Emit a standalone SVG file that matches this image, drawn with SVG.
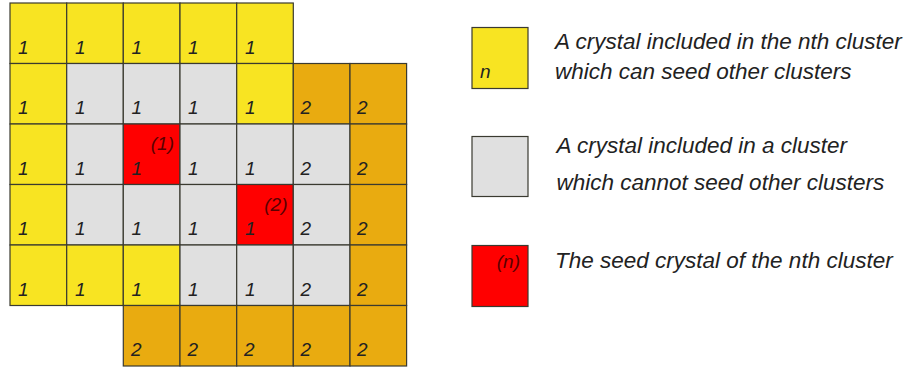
<svg xmlns="http://www.w3.org/2000/svg" width="905" height="374" viewBox="0 0 905 374">
<style>
.c{stroke:#3a3a30;stroke-width:1.2}
.y{fill:#F8E422}
.g{fill:#E0E0E0}
.o{fill:#E9AB10}
.r{fill:#FF0000}
text{font-family:"Liberation Sans",Arial,sans-serif;font-style:italic;fill:#222}
.d{font-size:19px}
.s{font-size:19px;fill:#5a0000;text-anchor:end}
.l{font-size:22.5px}
</style>
<rect x="0" y="0" width="905" height="374" fill="#fff"/>
<g id="grid">
<g id="c00"><rect class="c y" x="10" y="3" width="56.7" height="60.5"/><text class="d" x="18" y="53.5">1</text></g>
<g id="c01"><rect class="c y" x="66.7" y="3" width="56.6" height="60.5"/><text class="d" x="75" y="53.5">1</text></g>
<g id="c02"><rect class="c y" x="123.3" y="3" width="56.7" height="60.5"/><text class="d" x="131.5" y="53.5">1</text></g>
<g id="c03"><rect class="c y" x="180" y="3" width="56.7" height="60.5"/><text class="d" x="188" y="53.5">1</text></g>
<g id="c04"><rect class="c y" x="236.7" y="3" width="56.6" height="60.5"/><text class="d" x="245" y="53.5">1</text></g>
<g id="c10"><rect class="c y" x="10" y="63.5" width="56.7" height="60.5"/><text class="d" x="18" y="114">1</text></g>
<g id="c11"><rect class="c g" x="66.7" y="63.5" width="56.6" height="60.5"/><text class="d" x="75" y="114">1</text></g>
<g id="c12"><rect class="c g" x="123.3" y="63.5" width="56.7" height="60.5"/><text class="d" x="131.5" y="114">1</text></g>
<g id="c13"><rect class="c g" x="180" y="63.5" width="56.7" height="60.5"/><text class="d" x="188" y="114">1</text></g>
<g id="c14"><rect class="c y" x="236.7" y="63.5" width="56.6" height="60.5"/><text class="d" x="245" y="114">1</text></g>
<g id="c15"><rect class="c o" x="293.3" y="63.5" width="56.7" height="60.5"/><text class="d" x="300.5" y="114">2</text></g>
<g id="c16"><rect class="c o" x="350" y="63.5" width="56.6" height="60.5"/><text class="d" x="357" y="114">2</text></g>
<g id="c20"><rect class="c y" x="10" y="124" width="56.7" height="60.5"/><text class="d" x="18" y="174.5">1</text></g>
<g id="c21"><rect class="c g" x="66.7" y="124" width="56.6" height="60.5"/><text class="d" x="75" y="174.5">1</text></g>
<g id="c22"><rect class="c r" x="123.3" y="124" width="56.7" height="60.5"/><text class="d" x="131.5" y="174.5">1</text><text class="s" x="174" y="150">(1)</text></g>
<g id="c23"><rect class="c g" x="180" y="124" width="56.7" height="60.5"/><text class="d" x="188" y="174.5">1</text></g>
<g id="c24"><rect class="c g" x="236.7" y="124" width="56.6" height="60.5"/><text class="d" x="245" y="174.5">1</text></g>
<g id="c25"><rect class="c g" x="293.3" y="124" width="56.7" height="60.5"/><text class="d" x="300.5" y="174.5">2</text></g>
<g id="c26"><rect class="c o" x="350" y="124" width="56.6" height="60.5"/><text class="d" x="357" y="174.5">2</text></g>
<g id="c30"><rect class="c y" x="10" y="184.5" width="56.7" height="60.5"/><text class="d" x="18" y="235">1</text></g>
<g id="c31"><rect class="c g" x="66.7" y="184.5" width="56.6" height="60.5"/><text class="d" x="75" y="235">1</text></g>
<g id="c32"><rect class="c g" x="123.3" y="184.5" width="56.7" height="60.5"/><text class="d" x="131.5" y="235">1</text></g>
<g id="c33"><rect class="c g" x="180" y="184.5" width="56.7" height="60.5"/><text class="d" x="188" y="235">1</text></g>
<g id="c34"><rect class="c r" x="236.7" y="184.5" width="56.6" height="60.5"/><text class="d" x="245" y="235">1</text><text class="s" x="287.5" y="211">(2)</text></g>
<g id="c35"><rect class="c g" x="293.3" y="184.5" width="56.7" height="60.5"/><text class="d" x="300.5" y="235">2</text></g>
<g id="c36"><rect class="c o" x="350" y="184.5" width="56.6" height="60.5"/><text class="d" x="357" y="235">2</text></g>
<g id="c40"><rect class="c y" x="10" y="245" width="56.7" height="60.5"/><text class="d" x="18" y="295.5">1</text></g>
<g id="c41"><rect class="c y" x="66.7" y="245" width="56.6" height="60.5"/><text class="d" x="75" y="295.5">1</text></g>
<g id="c42"><rect class="c y" x="123.3" y="245" width="56.7" height="60.5"/><text class="d" x="131.5" y="295.5">1</text></g>
<g id="c43"><rect class="c g" x="180" y="245" width="56.7" height="60.5"/><text class="d" x="188" y="295.5">1</text></g>
<g id="c44"><rect class="c g" x="236.7" y="245" width="56.6" height="60.5"/><text class="d" x="245" y="295.5">1</text></g>
<g id="c45"><rect class="c g" x="293.3" y="245" width="56.7" height="60.5"/><text class="d" x="300.5" y="295.5">2</text></g>
<g id="c46"><rect class="c o" x="350" y="245" width="56.6" height="60.5"/><text class="d" x="357" y="295.5">2</text></g>
<g id="c52"><rect class="c o" x="123.3" y="305.5" width="56.7" height="60.5"/><text class="d" x="131" y="356">2</text></g>
<g id="c53"><rect class="c o" x="180" y="305.5" width="56.7" height="60.5"/><text class="d" x="187.5" y="356">2</text></g>
<g id="c54"><rect class="c o" x="236.7" y="305.5" width="56.6" height="60.5"/><text class="d" x="244" y="356">2</text></g>
<g id="c55"><rect class="c o" x="293.3" y="305.5" width="56.7" height="60.5"/><text class="d" x="300.5" y="356">2</text></g>
<g id="c56"><rect class="c o" x="350" y="305.5" width="56.6" height="60.5"/><text class="d" x="357" y="356">2</text></g>
</g>
<g id="legend">
<g id="leg-yellow"><rect class="c y" x="472" y="27.5" width="56" height="61"/><text class="d" x="480" y="78">n</text>
<text class="l" x="555" y="49">A crystal included in the nth cluster</text>
<text class="l" x="555" y="79">which can seed other clusters</text></g>
<g id="leg-gray"><rect class="c g" x="472" y="136.5" width="56" height="60"/>
<text class="l" x="556.5" y="153">A crystal included in a cluster</text>
<text class="l" x="556.5" y="190">which cannot seed other clusters</text></g>
<g id="leg-red"><rect class="c r" x="472" y="245.5" width="56" height="61"/><text class="s" x="520" y="268">(n)</text>
<text class="l" x="555" y="268">The seed crystal of the nth cluster</text></g>
</g>
</svg>
